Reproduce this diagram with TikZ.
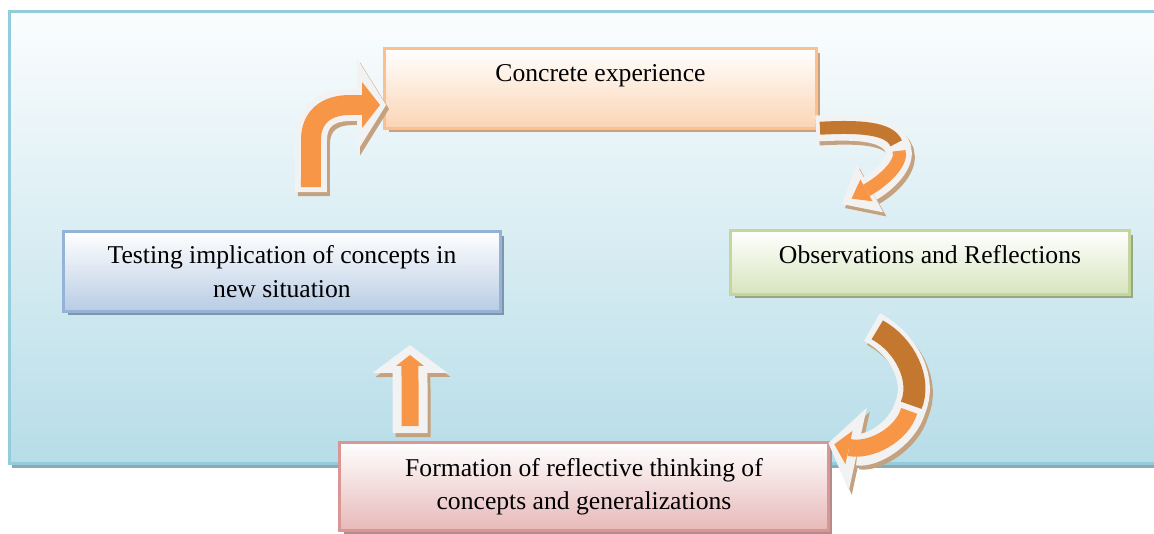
\documentclass[tikz,border=0pt]{standalone}
\usepackage{fontspec}
\setmainfont{Liberation Serif}
\usetikzlibrary{arrows.meta,shadows}

\definecolor{bgtop}{HTML}{FBFDFE}
\definecolor{bgbot}{HTML}{B7DDE8}
\definecolor{bgline}{HTML}{93CDDD}
\definecolor{bgshad}{HTML}{8EA9B2}
\definecolor{cfill}{HTML}{FBD4B4}
\definecolor{cline}{HTML}{FAC090}
\definecolor{cshad}{HTML}{C8A27F}
\definecolor{ofill}{HTML}{D7E4BD}
\definecolor{oline}{HTML}{C3D69B}
\definecolor{oshad}{HTML}{98A883}
\definecolor{tfill}{HTML}{B8CCE4}
\definecolor{tline}{HTML}{95B3D7}
\definecolor{tshad}{HTML}{7F95AE}
\definecolor{ffill}{HTML}{E6B9B8}
\definecolor{fline}{HTML}{D99694}
\definecolor{fshad}{HTML}{B38B8A}
\definecolor{arrlight}{HTML}{F79646}
\definecolor{arrdark}{HTML}{C4782F}
\definecolor{arrrimc}{HTML}{F2F2F2}
\definecolor{arrshad}{HTML}{C5A27F}

\begin{document}
\begin{tikzpicture}[x=0.02cm, y=-0.02cm,
    every node/.style={font=\fontsize{14.6}{19}\selectfont, align=center},
    box/.style n args={3}{draw=#2, line width=0.06cm, top color=white, bottom color=#1,
        drop shadow={shadow xshift=0.08cm, shadow yshift=-0.08cm, fill=#3, opacity=1}},
    arrshadow/.style={draw=arrshad, transform canvas={xshift=0.06cm, yshift=-0.08cm}},
    arrrim/.style={draw=arrrimc},
    arrcore/.style={draw=arrlight},
    arrback/.style={draw=arrdark},
    tip/.style 2 args={-{Triangle[length=#1, width=#2, line width=0pt]}}
]
\useasboundingbox (0,0) rectangle (1154,534);
\draw[line width=0.06cm, draw=bgline, top color=bgtop, bottom color=bgbot,
    drop shadow={shadow xshift=0.06cm, shadow yshift=-0.1cm, fill=bgshad, opacity=1}]
    (9.5,11.5) rectangle (1175,463);

\node[box={cfill}{cline}{cshad}, minimum width=8.64cm, minimum height=1.6cm, text depth=0.63cm]
    (C) at (600.5,88.5) {Concrete experience};
\node[box={ofill}{oline}{oshad}, minimum width=7.98cm, minimum height=1.28cm, text depth=0.34cm]
    (O) at (930,262.5) {Observations and Reflections};
\node[box={tfill}{tline}{tshad}, minimum width=8.74cm, minimum height=1.6cm]
    (T) at (282,271.5) {Testing implication of concepts in\\new situation};
\node[box={ffill}{fline}{fshad}, minimum width=9.78cm, minimum height=1.76cm]
    (F) at (584,486.5) {Formation of reflective thinking of\\concepts and generalizations};

% ends of the block arrows
\coordinate (a1s) at ([xshift=0.58cm, yshift=0.76cm]T.north);
\coordinate (a1e) at ([xshift=0.06cm, yshift=-0.33cm]C.west);
\coordinate (a2s) at ([xshift=-0.04cm, yshift=0.03cm]C.south east);
\coordinate (a2e) at ([xshift=-1.76cm, yshift=0.5cm]O.north);
\coordinate (a3s) at ([xshift=-1.16cm, yshift=-0.62cm]O.south);
\coordinate (a3e) at ([xshift=-0.03cm, yshift=0.87cm]F.east);
\coordinate (a4s) at ([xshift=-3.48cm, yshift=0.16cm]F.north);
\coordinate (a4e) at ([xshift=2.56cm, yshift=-0.64cm]T.south);

% T -> C
\draw[arrshadow, line width=0.64cm, tip={0.58cm}{1.86cm}] (a1s) -- (311,140) .. controls (311,118) and (325,105) .. (350,105) -- (a1e);
\draw[arrrim, line width=0.64cm, tip={0.58cm}{1.86cm}] (a1s) -- (311,140) .. controls (311,118) and (325,105) .. (350,105) -- (a1e);
\draw[arrcore, line width=0.4cm, tip={0.36cm}{0.92cm}, shorten <=0.1cm, shorten >=0.12cm] (a1s) -- (311,140) .. controls (311,118) and (325,105) .. (350,105) -- (a1e);

% C -> O
\draw[arrshadow, line width=0.52cm, tip={0.64cm}{1.1cm}] (a2s) .. controls (860,126) and (890,128) .. (898,148) .. controls (903,162) and (885,180) .. (a2e);
\draw[arrrim, line width=0.52cm, tip={0.64cm}{1.1cm}] (a2s) .. controls (860,126) and (890,128) .. (898,148) .. controls (903,162) and (885,180) .. (a2e);
\draw[arrback, line width=0.26cm, shorten <=0.08cm, shorten >=0.1cm] (a2s) .. controls (860,126) and (890,128) .. (898,148);
\draw[arrcore, line width=0.26cm, tip={0.34cm}{0.5cm}, shorten <=0.06cm, shorten >=0.22cm] (898,148) .. controls (903,162) and (885,180) .. (a2e);

% O -> F
\draw[arrshadow, line width=0.64cm, tip={0.6cm}{1.7cm}] (a3s) .. controls (905,345) and (922,380) .. (910,408) .. controls (902,435) and (870,452) .. (a3e);
\draw[arrrim, line width=0.64cm, tip={0.6cm}{1.7cm}] (a3s) .. controls (905,345) and (922,380) .. (910,408) .. controls (902,435) and (870,452) .. (a3e);
\draw[arrback, line width=0.44cm, shorten <=0.12cm, shorten >=0.06cm] (a3s) .. controls (905,345) and (922,380) .. (910,408);
\draw[arrcore, line width=0.34cm, tip={0.3cm}{0.68cm}, shorten <=0.06cm, shorten >=0.12cm] (910,408) .. controls (902,435) and (870,452) .. (a3e);

% F -> T
\draw[arrshadow, line width=0.7cm, tip={0.56cm}{1.5cm}] (a4s) -- (a4e);
\draw[arrrim, line width=0.7cm, tip={0.56cm}{1.5cm}] (a4s) -- (a4e);
\draw[arrcore, line width=0.34cm, tip={0.22cm}{0.56cm}, shorten <=0.14cm, shorten >=0.2cm] (a4s) -- (a4e);
\end{tikzpicture}
\end{document}
